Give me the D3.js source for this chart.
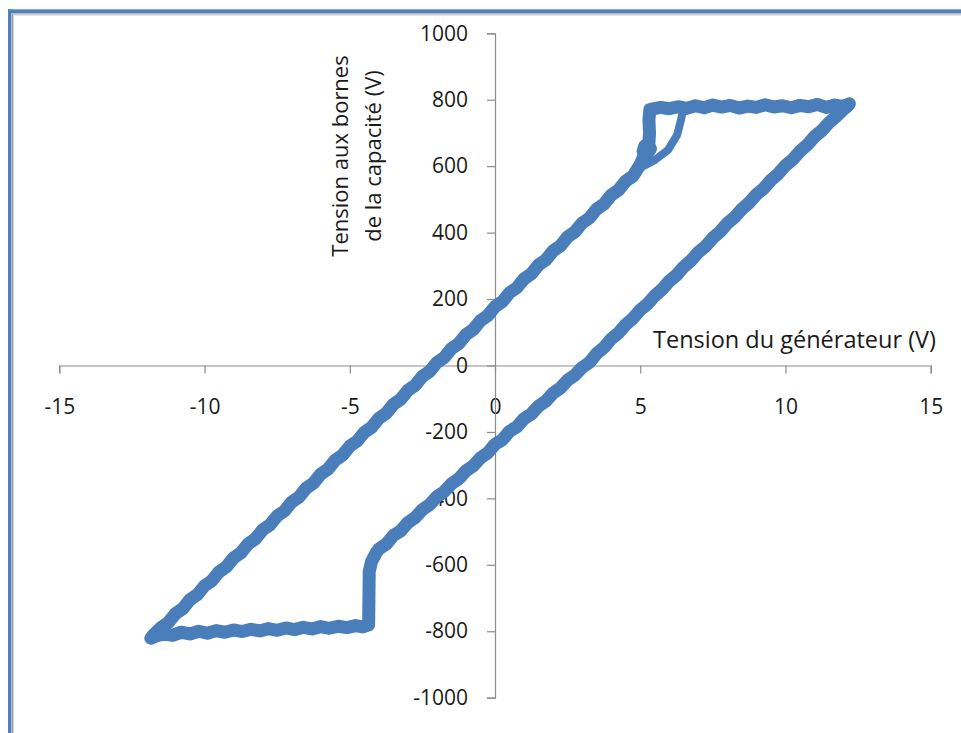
<!DOCTYPE html>
<html>
<head>
<meta charset="utf-8">
<script src="https://cdn.jsdelivr.net/npm/d3@7"></script>
<style>
  html, body { margin: 0; padding: 0; background: #ffffff; }
  svg { display: block; }
  text { font-family: "Open Sans", "DejaVu Sans", sans-serif; fill: #1a1a1a; }
</style>
</head>
<body>
<svg id="chart" width="961" height="733"></svg>
<script>
// ---- data ----
const xTicks = [-15, -10, -5, 0, 5, 10, 15];
const yTicks = [-1000, -800, -600, -400, -200, 0, 200, 400, 600, 800, 1000];
const xTitle = "Tension du générateur (V)";
const yTitleLines = ["Tension aux bornes", "de la capacité (V)"];

// main hysteresis trace: generator voltage (V)
const genVoltage = [
  // rising branch (lower right)
  -4.35, -4.34, -4.33, -4.25, -4.10, -4.00, -3.75, -3.50, -3.25, -3.00, -2.75, -2.50, -2.25, -2.00,
  -1.75, -1.50, -1.25, -1.00, -0.75, -0.50, -0.25, 0.00, 0.25, 0.50, 0.75, 1.00, 1.25, 1.50, 1.75,
  2.00, 2.25, 2.50, 2.75, 3.00, 3.25, 3.50, 3.75, 4.00, 4.25, 4.50, 4.75, 5.00, 5.25, 5.50, 5.75,
  6.00, 6.25, 6.50, 6.75, 7.00, 7.25, 7.50, 7.75, 8.00, 8.25, 8.50, 8.75, 9.00, 9.25, 9.50, 9.75,
  10.00, 10.25, 10.50, 10.75, 11.00, 11.25, 11.50, 11.75, 12.00, 12.15,
  // upper plateau
  12.20, 12.00, 11.70, 11.40, 11.10, 10.80, 10.50, 10.20, 9.90, 9.60, 9.30, 9.00, 8.70, 8.40,
  8.10, 7.80, 7.50, 7.20, 6.90, 6.60, 6.30, 6.00, 5.70, 5.40,
  // switching step with small loop
  5.33, 5.30, 5.32, 5.30, 5.15, 5.10, 5.22, 5.35, 5.28, 5.12, 5.00,
  // falling branch (upper left)
  4.75, 4.50, 4.25, 4.00, 3.75, 3.50, 3.25, 3.00, 2.75, 2.50, 2.25, 2.00, 1.75, 1.50, 1.25, 1.00,
  0.75, 0.50, 0.25, 0.00, -0.25, -0.50, -0.75, -1.00, -1.25, -1.50, -1.75, -2.00, -2.25, -2.50,
  -2.75, -3.00, -3.25, -3.50, -3.75, -4.00, -4.25, -4.50, -4.75, -5.00, -5.25, -5.50, -5.75, -6.00,
  -6.25, -6.50, -6.75, -7.00, -7.25, -7.50, -7.75, -8.00, -8.25, -8.50, -8.75, -9.00, -9.25, -9.50,
  -9.75, -10.00, -10.25, -10.50, -10.75, -11.00, -11.25, -11.50, -11.75, -11.85,
  // lower plateau
  -11.70, -11.40, -11.10, -10.80, -10.50, -10.20, -9.90, -9.60, -9.30, -9.00, -8.70, -8.40, -8.10,
  -7.80, -7.50, -7.20, -6.90, -6.60, -6.30, -6.00, -5.70, -5.40, -5.10, -4.80, -4.55, -4.35
];
// main hysteresis trace: capacitor voltage (V)
const capVoltage = [
  -781, -700, -620, -590, -565, -553, -538, -512, -498, -473, -458, -434, -419, -395,
  -380, -356, -341, -317, -302, -278, -263, -237, -224, -198, -185, -160, -146, -122, -107,
  -83, -68, -44, -29, -6, 9, 36, 54, 80, 98, 123, 142, 167, 185, 210, 229,
  254, 272, 297, 316, 341, 359, 384, 403, 428, 446, 471, 490, 515, 533, 558, 577,
  602, 620, 645, 664, 689, 707, 731, 750, 771, 782,
  788, 780, 784, 777, 786, 779, 783, 776, 782, 778, 785, 777, 781, 775,
  783, 778, 784, 776, 782, 774, 779, 773, 777, 772,
  770, 740, 700, 672, 660, 645, 636, 652, 668, 630, 605,
  570, 555, 528, 513, 486, 471, 444, 429, 402, 387, 360, 345, 318, 303, 276, 261,
  234, 219, 192, 177, 150, 135, 108, 93, 66, 51, 24, 9, -18, -33,
  -60, -75, -102, -117, -144, -159, -186, -201, -228, -243, -270, -285, -312, -327,
  -354, -369, -396, -411, -438, -453, -480, -495, -522, -537, -564, -579, -606, -621,
  -648, -663, -690, -705, -732, -747, -774, -789, -810, -821,
  -815, -808, -812, -803, -808, -800, -806, -798, -803, -796, -801, -794, -799,
  -792, -797, -790, -795, -788, -793, -786, -791, -785, -789, -783, -787, -781
];
// short inner branch near the upper switching point
const branchGen = [4.82, 5.10, 5.51, 5.96, 6.27, 6.40, 6.47];
const branchCap = [586, 600, 619, 649, 694, 738, 768];

// ---- layout ----
const svg = d3.select("#chart");
const W = 961, H = 733;
const color = "#4A7EBB";
const axisColor = "#8c8c8c";

const x = d3.scaleLinear().domain([-15, 15]).range([59.3, 930.7]);
const y = d3.scaleLinear().domain([-1000, 1000]).range([697.7, 33.3]);

// frame (blue border at top and left)
svg.append("rect").attr("x", 8).attr("y", 9.3).attr("width", W - 8).attr("height", 4).attr("fill", "#4F81BD");
svg.append("rect").attr("x", 8).attr("y", 9.3).attr("width", 3.5).attr("height", H - 9).attr("fill", "#4F81BD");
svg.append("line").attr("x1", 12.5).attr("x2", W).attr("y1", 14).attr("y2", 14).attr("stroke", "#9a9a9a").attr("stroke-width", 1);
svg.append("line").attr("x1", 12.5).attr("x2", 12.5).attr("y1", 14).attr("y2", H).attr("stroke", "#9a9a9a").attr("stroke-width", 1);
svg.append("line").attr("x1", 13.5).attr("x2", W).attr("y1", 15.2).attr("y2", 15.2).attr("stroke", "#d8d8d8").attr("stroke-width", 1);
svg.append("line").attr("x1", 13.5).attr("x2", 13.5).attr("y1", 15.2).attr("y2", H).attr("stroke", "#d8d8d8").attr("stroke-width", 1);

// axes
const fmt = d => String(d);
const xAxis = d3.axisBottom(x).tickValues(xTicks).tickSize(8).tickPadding(26).tickFormat(fmt);
const yAxis = d3.axisLeft(y).tickValues(yTicks).tickSize(8).tickPadding(19).tickFormat(fmt);

const gx = svg.append("g").attr("transform", `translate(0,${y(0)})`).call(xAxis);
const gy = svg.append("g").attr("transform", `translate(${x(0)},0)`).call(yAxis);
[gx, gy].forEach(g => {
  g.selectAll("path, line").attr("stroke", axisColor).attr("stroke-width", 1.2);
  g.selectAll("text").attr("font-size", 21).attr("font-family", '"Open Sans", sans-serif').attr("fill", "#1a1a1a");
});

// data trace
const pts = genVoltage.map((g, i) => [g, capVoltage[i]]);
const bpts = branchGen.map((g, i) => [g, branchCap[i]]);
const line = d3.line().x(d => x(d[0])).y(d => y(d[1]));

svg.append("path").datum(pts).attr("d", line)
  .attr("fill", "none").attr("stroke", color).attr("stroke-width", 13)
  .attr("stroke-linejoin", "round").attr("stroke-linecap", "round");
svg.append("path").datum(bpts).attr("d", line)
  .attr("fill", "none").attr("stroke", color).attr("stroke-width", 8)
  .attr("stroke-linejoin", "round").attr("stroke-linecap", "round");

// axis titles
svg.append("text").attr("x", 653).attr("y", 348).attr("text-anchor", "start")
  .attr("font-size", 23).attr("textLength", 283).attr("lengthAdjust", "spacingAndGlyphs")
  .text(xTitle);

const yt = svg.append("text").attr("transform", "translate(348,156) rotate(-90)")
  .attr("text-anchor", "middle").attr("font-size", 22);
yTitleLines.forEach((t, i) => {
  yt.append("tspan").attr("x", 0).attr("dy", i === 0 ? 0 : 33).text(t);
});
</script>
</body>
</html>
